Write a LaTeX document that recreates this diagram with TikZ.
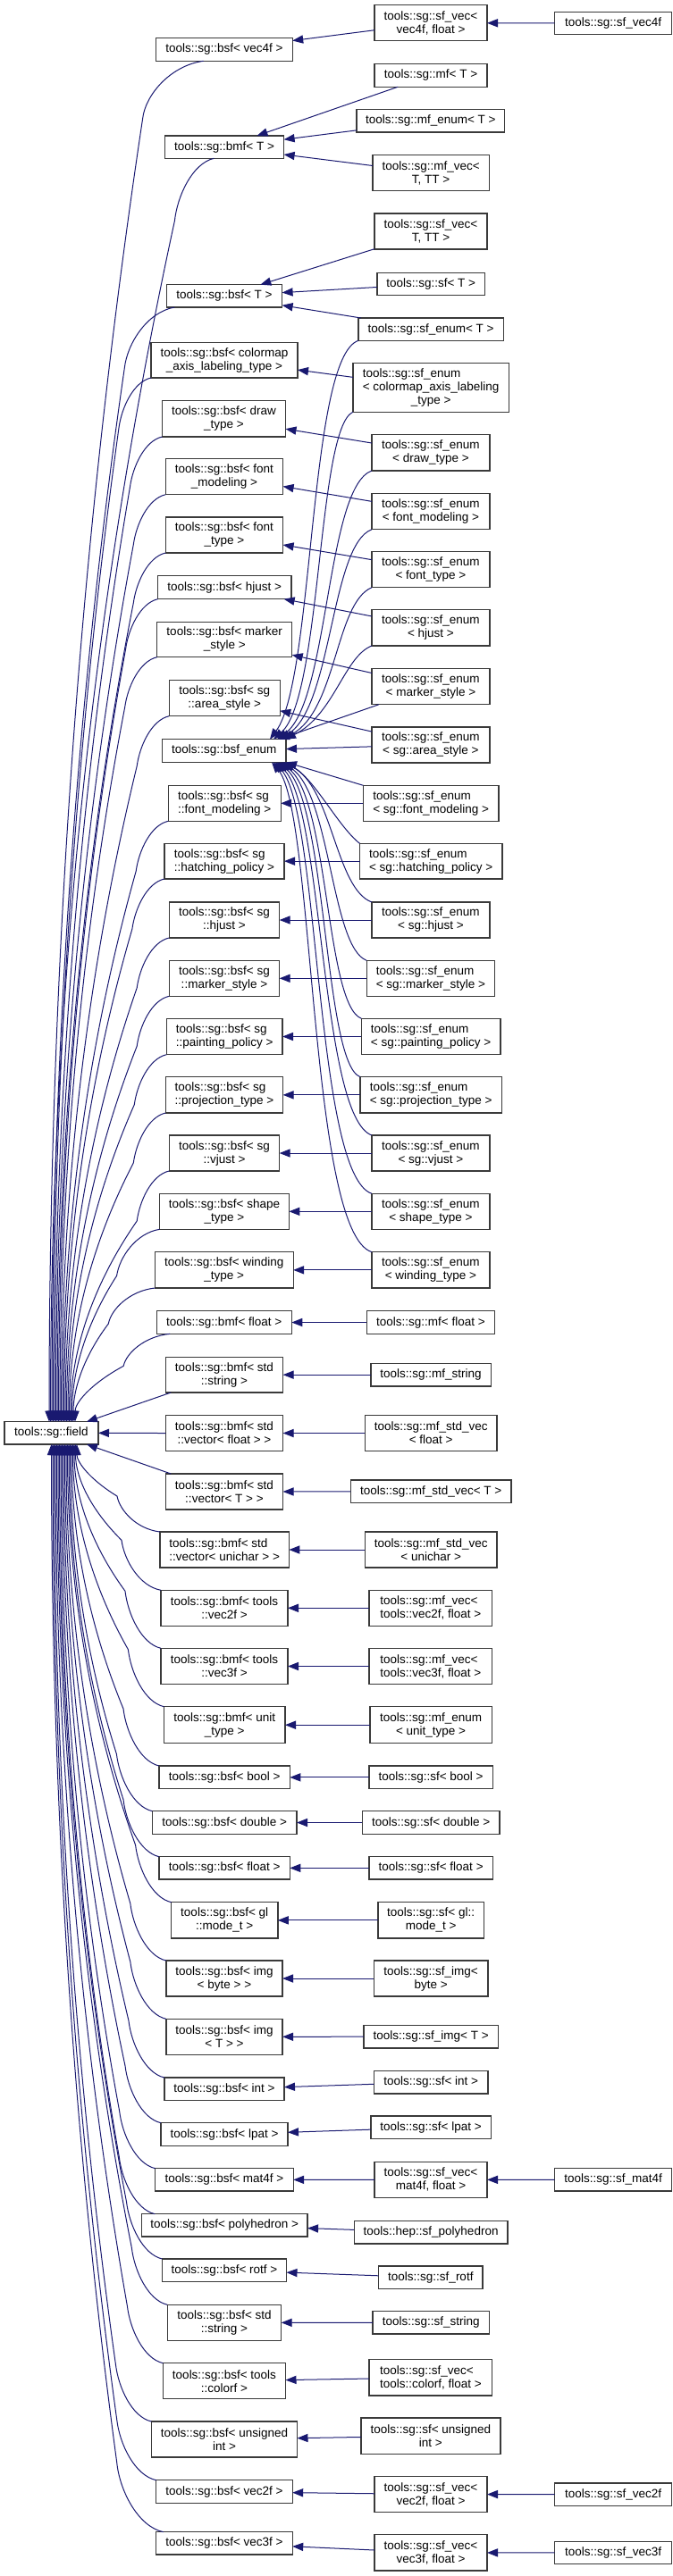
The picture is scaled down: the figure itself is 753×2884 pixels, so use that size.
\documentclass[tikz,border=0pt]{standalone}
\usepackage{fontspec}
\setmainfont{Liberation Sans}
\usetikzlibrary{arrows.meta,calc}
\definecolor{edgecol}{HTML}{191970}
\definecolor{boxcol}{HTML}{3A3A3A}
\newcommand\LA[2]{\rlap{#1}\phantom{#2}\\#2}
\newcommand\mknode[6]{\node[cls, minimum width={(#4-#2)*0.5pt}, minimum height={(#5-#3)*0.5pt}] (#1) at ({(#2+#4)/2},{(#3+#5)/2}) {#6};}
% curve from a class above the field down to the field
\newcommand\fup[5]{\draw[inh] let \p1=($(#1.south west)+(#2,0)$), \p2=($(field.north west)+(#3,0)$) in
 (\p1) .. controls ({\x1-0.55*#4}, {\y1-0.08*#5}) and ({\x1-#4+1.5pt}, {\y1-0.6*#5}) .. ({\x1-#4}, {\y1-#5})
 .. controls ({\x1-#4-0.7*(\x1-#4-\x2)}, {\y1-#5-(\y1-#5-\y2)/3}) and ({\x2}, {\y2+(\y1-#5-\y2)/3}) .. (\p2);}
% curve from a class below the field up to the field
\newcommand\fdown[5]{\draw[inh] let \p1=($(#1.north west)+(#2,0)$), \p2=($(field.south west)+(#3,0)$) in
 (\p1) .. controls ({\x1-0.55*#4}, {\y1+0.08*#5}) and ({\x1-#4+1.5pt}, {\y1+0.6*#5}) .. ({\x1-#4}, {\y1+#5})
 .. controls ({\x1-#4-0.7*(\x1-#4-\x2)}, {\y1+#5+(\y2-\y1-#5)/3}) and ({\x2}, {\y2-(\y2-\y1-#5)/3}) .. (\p2);}
\begin{document}
\begin{tikzpicture}[x=0.5pt,y=-0.5pt,
  cls/.style={draw=boxcol, line width=0.7pt, fill=white, inner sep=0pt, outer sep=0pt, align=center, font=\fontsize{6.75pt}{7.5pt}\selectfont},
  inh/.style={draw=edgecol, line width=0.5pt, -{Triangle[length=6pt,width=4.6pt]}}]
\useasboundingbox (0,0) rectangle (753,2884);
% ---------- nodes ----------
\mknode{sfvecvf}{419}{5.7}{545}{45.7}{tools::sg::sf\_vec<\\vec4f, float >}
\mknode{sfvecf}{620.7}{13.3}{751.4}{38.7}{tools::sg::sf\_vec4f}
\mknode{bsfvec4}{174.7}{42.3}{327.2}{68.3}{tools::sg::bsf< vec4f >}
\mknode{mfT}{419}{71.7}{545}{97.3}{tools::sg::mf< T >}
\mknode{mfenumT}{399}{122.7}{564.7}{148}{tools::sg::mf\_enum< T >}
\mknode{bmfT}{184.4}{152}{317.6}{177.3}{tools::sg::bmf< T >}
\mknode{mfvecT}{417}{173.7}{547.3}{213.7}{tools::sg::mf\_vec<\\T, TT >}
\mknode{sfvecT}{419}{239}{545}{279}{tools::sg::sf\_vec<\\T, TT >}
\mknode{sfT}{421.8}{305.3}{542.5}{330.7}{tools::sg::sf< T >}
\mknode{bsfT}{186.3}{318.7}{315.6}{344}{tools::sg::bsf< T >}
\mknode{sfenumT}{401}{356}{563.2}{381.3}{tools::sg::sf\_enum< T >}
\mknode{bsfcmap}{169}{383.3}{333}{423}{tools::sg::bsf< colormap\\\_axis\_labeling\_type >}
\mknode{sfecmap}{394.8}{406.7}{569.5}{461.3}{\rlap{tools::sg::sf\_enum}\phantom{< colormap\_axis\_labeling}\\< colormap\_axis\_labeling\\\_type >}
\mknode{bsfdraw}{181.5}{448.7}{319.5}{489}{tools::sg::bsf< draw\\\_type >}
\mknode{sfedraw}{416}{486.7}{547.8}{527}{tools::sg::sf\_enum\\< draw\_type >}
\mknode{bsffontm}{185.3}{513.3}{316.6}{553.7}{tools::sg::bsf< font\\\_modeling >}
\mknode{sfefontm}{416}{552.3}{547.8}{592.7}{tools::sg::sf\_enum\\< font\_modeling >}
\mknode{bsffontt}{185.3}{579}{316.6}{619}{tools::sg::bsf< font\\\_type >}
\mknode{sfefontt}{416}{617.7}{547.8}{657.7}{tools::sg::sf\_enum\\< font\_type >}
\mknode{bsfhjust}{176.6}{644.7}{325.8}{670.7}{tools::sg::bsf< hjust >}
\mknode{sfehjust}{416}{682.7}{547.8}{723}{tools::sg::sf\_enum\\< hjust >}
\mknode{bsfmarker}{175.7}{696.3}{326.7}{735.7}{tools::sg::bsf< marker\\\_style >}
\mknode{sfemarker}{416}{748.3}{547.8}{788.7}{tools::sg::sf\_enum\\< marker\_style >}
\mknode{bsfarea}{189.2}{761.7}{313.2}{801.7}{tools::sg::bsf< sg\\::area\_style >}
\mknode{bsfenum}{181.5}{827.7}{320}{853.3}{tools::sg::bsf\_enum}
\mknode{sfearea}{416}{814}{547.8}{854}{tools::sg::sf\_enum\\< sg::area\_style >}
\mknode{bsfsgfontm}{188.2}{879.3}{314.2}{919.3}{\LA{tools::sg::bsf< sg}{::font\_modeling >}}
\mknode{sfesgfontm}{406.4}{879.3}{558}{919.3}{\LA{tools::sg::sf\_enum}{< sg::font\_modeling >}}
\mknode{bsfhatch}{183.9}{944.3}{318}{984}{\LA{tools::sg::bsf< sg}{::hatching\_policy >}}
\mknode{sfehatch}{402.5}{944.3}{561.8}{984}{\LA{tools::sg::sf\_enum}{< sg::hatching\_policy >}}
\mknode{bsfsghjust}{189.2}{1010}{312.7}{1050}{tools::sg::bsf< sg\\::hjust >}
\mknode{sfesghjust}{416}{1010}{547.8}{1050}{tools::sg::sf\_enum\\< sg::hjust >}
\mknode{bsfsgmarker}{189.2}{1075.3}{312.7}{1115.3}{tools::sg::bsf< sg\\::marker\_style >}
\mknode{sfesgmarker}{410.2}{1075.3}{553.6}{1115.3}{\LA{tools::sg::sf\_enum}{< sg::marker\_style >}}
\mknode{bsfpaint}{186.3}{1140.3}{316.1}{1180.7}{\LA{tools::sg::bsf< sg}{::painting\_policy >}}
\mknode{sfepaint}{404.4}{1140.3}{559.8}{1180.7}{\LA{tools::sg::sf\_enum}{< sg::painting\_policy >}}
\mknode{bsfproj}{185.3}{1205.7}{316.6}{1246}{\LA{tools::sg::bsf< sg}{::projection\_type >}}
\mknode{sfeproj}{403}{1205.7}{561.3}{1246}{\LA{tools::sg::sf\_enum}{< sg::projection\_type >}}
\mknode{bsfvjust}{189.2}{1271}{312.7}{1311}{tools::sg::bsf< sg\\::vjust >}
\mknode{sfevjust}{416}{1271}{547.8}{1311}{tools::sg::sf\_enum\\< sg::vjust >}
\mknode{bsfshape}{178.6}{1336.3}{323.4}{1376.3}{tools::sg::bsf< shape\\\_type >}
\mknode{sfeshape}{416}{1336.3}{547.8}{1376.3}{tools::sg::sf\_enum\\< shape\_type >}
\mknode{bsfwind}{173.3}{1401.7}{328.2}{1442}{tools::sg::bsf< winding\\\_type >}
\mknode{sfewind}{416}{1401.7}{547.8}{1442}{tools::sg::sf\_enum\\< winding\_type >}
\mknode{bmffloat}{175.2}{1467.7}{326.3}{1493.3}{tools::sg::bmf< float >}
\mknode{mffloat}{410.2}{1467.7}{553.6}{1493.3}{tools::sg::mf< float >}
\mknode{bmfstr}{185.3}{1519.3}{316.6}{1559}{tools::sg::bmf< std\\::string >}
\mknode{mfstring}{415}{1526.3}{549.2}{1552}{tools::sg::mf\_string}
\mknode{field}{4.8}{1591.7}{110}{1617}{tools::sg::field}
\mknode{bmfvecf}{185.3}{1584.7}{316.6}{1624.3}{tools::sg::bmf< std\\::vector< float > >}
\mknode{mfsvf}{408.3}{1584.7}{556}{1624.3}{tools::sg::mf\_std\_vec\\< float >}
\mknode{bmfvecT}{185.3}{1650}{316.6}{1690}{tools::sg::bmf< std\\::vector< T > >}
\mknode{mfsvT}{392.4}{1657}{572}{1682.7}{tools::sg::mf\_std\_vec< T >}
\mknode{bmfvecu}{179}{1715}{323.4}{1755}{\LA{tools::sg::bmf< std}{::vector< unichar > >}}
\mknode{mfsvu}{408.3}{1715}{556}{1755}{tools::sg::mf\_std\_vec\\< unichar >}
\mknode{bmfv2}{180}{1780.3}{322}{1820.3}{tools::sg::bmf< tools\\::vec2f >}
\mknode{mfv2}{413}{1780.3}{550.7}{1820.3}{\LA{tools::sg::mf\_vec<}{tools::vec2f, float >}}
\mknode{bmfv3}{180}{1845.3}{322}{1885.7}{tools::sg::bmf< tools\\::vec3f >}
\mknode{mfv3}{413}{1845.3}{550.7}{1885.7}{\LA{tools::sg::mf\_vec<}{tools::vec3f, float >}}
\mknode{bmfunit}{183.4}{1910.7}{319}{1951.7}{tools::sg::bmf< unit\\\_type >}
\mknode{mfeunit}{414}{1910.7}{550.2}{1951.7}{tools::sg::mf\_enum\\< unit\_type >}
\mknode{bsfbool}{178}{1977}{324.3}{2002.7}{tools::sg::bsf< bool >}
\mknode{sfbool}{413}{1977}{551.2}{2002.7}{tools::sg::sf< bool >}
\mknode{bsfdouble}{170.4}{2027.7}{332}{2053.3}{tools::sg::bsf< double >}
\mknode{sfdouble}{405.4}{2027.7}{558.9}{2053.3}{tools::sg::sf< double >}
\mknode{bsffloat}{178}{2078.7}{324.3}{2104}{tools::sg::bsf< float >}
\mknode{sffloat}{413}{2078.7}{551.2}{2104}{tools::sg::sf< float >}
\mknode{bsfgl}{191.6}{2129.7}{310.8}{2170}{tools::sg::bsf< gl\\::mode\_t >}
\mknode{sfgl}{422.8}{2129.7}{541.5}{2170}{tools::sg::sf< gl::\\mode\_t >}
\mknode{bsfimgb}{185.8}{2195}{316.1}{2235}{tools::sg::bsf< img\\< byte > >}
\mknode{sfimgb}{418.4}{2195}{545.9}{2235}{tools::sg::sf\_img<\\byte >}
\mknode{bsfimgT}{185.8}{2260.3}{316.1}{2300.3}{tools::sg::bsf< img\\< T > >}
\mknode{sfimgT}{406.9}{2267.3}{557.4}{2293}{tools::sg::sf\_img< T >}
\mknode{bsfint}{183.9}{2326}{318}{2351.7}{tools::sg::bsf< int >}
\mknode{sfint}{418.4}{2318.3}{545.9}{2344}{tools::sg::sf< int >}
\mknode{bsflpat}{180}{2376.7}{322}{2402.7}{tools::sg::bsf< lpat >}
\mknode{sflpat}{415}{2369}{549.2}{2394.7}{tools::sg::sf< lpat >}
\mknode{bsfmat4}{173.7}{2427.7}{328.2}{2453}{tools::sg::bsf< mat4f >}
\mknode{sfvecmat}{419}{2420.3}{545}{2460.3}{tools::sg::sf\_vec<\\mat4f, float >}
\mknode{sfmat4f}{620.7}{2427.7}{751.4}{2453}{tools::sg::sf\_mat4f}
\mknode{bsfpoly}{158.3}{2478.7}{344.1}{2504}{tools::sg::bsf< polyhedron >}
\mknode{sfpoly}{396.2}{2486.7}{568}{2512}{tools::hep::sf\_polyhedron}
\mknode{bsfrotf}{181.5}{2529}{320.5}{2554.3}{tools::sg::bsf< rotf >}
\mknode{sfrotf}{423.7}{2537}{540}{2562.7}{tools::sg::sf\_rotf}
\mknode{bsfstr}{187.3}{2580.3}{314.7}{2620.3}{tools::sg::bsf< std\\::string >}
\mknode{sfstring}{417}{2587.7}{547.3}{2613}{tools::sg::sf\_string}
\mknode{bsfcolor}{182.4}{2645.7}{319.5}{2685.7}{tools::sg::bsf< tools\\::colorf >}
\mknode{sfveccol}{413}{2641.7}{550.7}{2682}{\LA{tools::sg::sf\_vec<}{tools::colorf, float >}}
\mknode{bsfuint}{169.4}{2711}{332.5}{2751}{tools::sg::bsf< unsigned\\int >}
\mknode{sfuint}{404}{2707}{559.8}{2747.3}{tools::sg::sf< unsigned\\int >}
\mknode{bsfv2}{174.7}{2776.7}{327.2}{2802.7}{tools::sg::bsf< vec2f >}
\mknode{sfvecv2}{419}{2772.3}{545}{2812.7}{tools::sg::sf\_vec<\\vec2f, float >}
\mknode{sfvec2f}{620.7}{2780}{751.4}{2805.3}{tools::sg::sf\_vec2f}
\mknode{bsfv3}{174.7}{2834.7}{327.2}{2860}{tools::sg::bsf< vec3f >}
\mknode{sfvecv3}{419}{2837.7}{545}{2878}{tools::sg::sf\_vec<\\vec3f, float >}
\mknode{sfvec3f}{620.7}{2845.3}{751.4}{2870.7}{tools::sg::sf\_vec3f}
% ---------- straight inheritance edges ----------
\foreach \c/\p in {sfvecf/sfvecvf, sfvecvf/bsfvec4, mfT/bmfT, mfenumT/bmfT, mfvecT/bmfT,
  sfvecT/bsfT, sfT/bsfT, sfenumT/bsfT, sfecmap/bsfcmap, sfedraw/bsfdraw, sfefontm/bsffontm,
  sfefontt/bsffontt, sfehjust/bsfhjust, sfemarker/bsfmarker, sfearea/bsfarea, sfearea/bsfenum,
  sfesgfontm/bsfsgfontm, sfehatch/bsfhatch, sfesghjust/bsfsghjust, sfesgmarker/bsfsgmarker,
  sfepaint/bsfpaint, sfeproj/bsfproj, sfevjust/bsfvjust, sfeshape/bsfshape, sfewind/bsfwind,
  mffloat/bmffloat, mfstring/bmfstr, mfsvf/bmfvecf, mfsvT/bmfvecT, mfsvu/bmfvecu, mfv2/bmfv2,
  mfv3/bmfv3, mfeunit/bmfunit, sfbool/bsfbool, sfdouble/bsfdouble, sffloat/bsffloat, sfgl/bsfgl,
  sfimgb/bsfimgb, sfimgT/bsfimgT, sfint/bsfint, sflpat/bsflpat, sfvecmat/bsfmat4, sfmat4f/sfvecmat,
  sfpoly/bsfpoly, sfrotf/bsfrotf, sfstring/bsfstr, sfveccol/bsfcolor, sfuint/bsfuint,
  sfvecv2/bsfv2, sfvec2f/sfvecv2, sfvecv3/bsfv3, sfvec3f/sfvecv3}
  {\draw[inh] (\c) -- (\p);}
% ---------- sf_enum -> bsf_enum ----------
\draw[inh] (sfenumT.south west) .. controls (345,400) and (352,760) .. ($(bsfenum.north east)+(-18,0)$);
\draw[inh] (sfecmap.south west) .. controls (355,480) and (360,780) .. ($(bsfenum.north east)+(-14,0)$);
\draw[inh] (sfedraw.south west) .. controls (365,545) and (368,785) .. ($(bsfenum.north east)+(-10,0)$);
\draw[inh] (sfefontm.south west) .. controls (370,610) and (372,790) .. ($(bsfenum.north east)+(-7,0)$);
\draw[inh] (sfefontt.south west) .. controls (375,675) and (377,795) .. ($(bsfenum.north east)+(-4,0)$);
\draw[inh] (sfehjust.south west) .. controls (385,735) and (374,800) .. ($(bsfenum.north east)+(-1,0)$);
\draw[inh] ($(sfemarker.south west)+(8,0)$) -- ($(bsfenum.north east)+(-8,0)$);
\draw[inh] (sfesgfontm.north west) -- (bsfenum.south east);
\draw[inh] (sfehatch.north west) .. controls (378,925) and (352,872) .. ($(bsfenum.south east)+(-2,0)$);
\draw[inh] (sfesghjust.north west) .. controls (375,995) and (372,880) .. ($(bsfenum.south east)+(-4,0)$);
\draw[inh] (sfesgmarker.north west) .. controls (370,1060) and (370,885) .. ($(bsfenum.south east)+(-6,0)$);
\draw[inh] (sfepaint.north west) .. controls (364,1125) and (368,890) .. ($(bsfenum.south east)+(-8,0)$);
\draw[inh] (sfeproj.north west) .. controls (362,1190) and (366,895) .. ($(bsfenum.south east)+(-10,0)$);
\draw[inh] (sfevjust.north west) .. controls (358,1250) and (362,900) .. ($(bsfenum.south east)+(-12,0)$);
\draw[inh] (sfeshape.north west) .. controls (352,1315) and (358,905) .. ($(bsfenum.south east)+(-14,0)$);
\draw[inh] (sfewind.north west) .. controls (346,1380) and (352,910) .. ($(bsfenum.south east)+(-16,0)$);
% ---------- edges into tools::sg::field ----------
\fup{bsfvec4}{53}{50.2}{34pt}{32pt}
\fup{bmfT}{55}{51.7}{22pt}{35pt}
\fup{bsfT}{9}{53.2}{28pt}{34pt}
\fup{bsfcmap}{0}{54.7}{18pt}{28pt}
\fup{bsfdraw}{0}{56.2}{18pt}{28pt}
\fup{bsffontm}{0}{57.7}{18pt}{28pt}
\fup{bsffontt}{0}{59.2}{18pt}{28pt}
\fup{bsfhjust}{0}{60.7}{18pt}{28pt}
\fup{bsfmarker}{0}{62.2}{18pt}{28pt}
\fup{bsfarea}{0}{63.7}{18pt}{28pt}
\fup{bsfsgfontm}{0}{65.2}{18pt}{28pt}
\fup{bsfhatch}{0}{66.7}{18pt}{28pt}
\fup{bsfsghjust}{0}{68.2}{18pt}{28pt}
\fup{bsfsgmarker}{0}{69.7}{18pt}{28pt}
\fup{bsfpaint}{0}{71.2}{18pt}{28pt}
\fup{bsfproj}{0}{72.7}{18pt}{28pt}
\fup{bsfvjust}{0}{74.2}{18pt}{28pt}
\fup{bsfshape}{0}{75.7}{24pt}{26pt}
\fup{bsfwind}{0}{77.2}{26pt}{20pt}
\fup{bmffloat}{15}{79.2}{26pt}{18pt}
\draw[inh] ($(bmfstr.south west)+(6,0)$) -- ($(field.north east)+(-13,0)$);
\draw[inh] (bmfvecf.west) -- (field.east);
\draw[inh] ($(bmfvecT.north west)+(6,0)$) -- ($(field.south east)+(-13,0)$);
\fdown{bmfvecu}{0}{81.2}{24pt}{20pt}
\fdown{bmfv2}{0}{79.7}{22pt}{28pt}
\fdown{bmfv3}{0}{78.2}{20pt}{32pt}
\fdown{bmfunit}{0}{76.7}{20pt}{32pt}
\fdown{bsfbool}{0}{75.2}{20pt}{32pt}
\fdown{bsfdouble}{0}{73.7}{20pt}{32pt}
\fdown{bsffloat}{0}{72.2}{20pt}{32pt}
\fdown{bsfgl}{0}{70.7}{20pt}{32pt}
\fdown{bsfimgb}{0}{69.2}{20pt}{32pt}
\fdown{bsfimgT}{0}{67.7}{20pt}{32pt}
\fdown{bsfint}{0}{66.2}{20pt}{32pt}
\fdown{bsflpat}{0}{64.7}{20pt}{32pt}
\fdown{bsfmat4}{0}{63.2}{20pt}{32pt}
\fdown{bsfpoly}{15}{61.7}{20pt}{32pt}
\fdown{bsfrotf}{0}{60.2}{20pt}{32pt}
\fdown{bsfstr}{0}{58.7}{20pt}{32pt}
\fdown{bsfcolor}{0}{57.2}{20pt}{32pt}
\fdown{bsfuint}{0}{55.7}{20pt}{32pt}
\fdown{bsfv2}{0}{54.2}{22pt}{34pt}
\fdown{bsfv3}{8}{52.7}{26pt}{39pt}
\end{tikzpicture}
\end{document}
